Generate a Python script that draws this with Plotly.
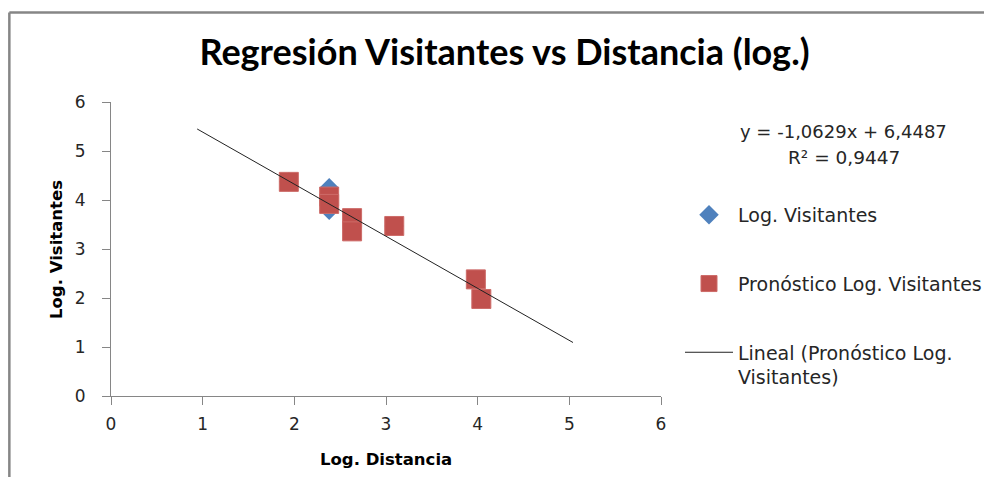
import plotly.graph_objects as go

# Data
log_distancia = [1.94, 2.38, 2.38, 2.63, 2.63, 3.09, 3.98, 4.04]
log_visitantes = [4.37, 4.25, 3.79, 3.55, 3.42, 3.47, 2.38, 1.98]
pron_x = [1.94, 2.38, 2.38, 2.63, 2.63, 3.09, 3.98, 4.04]
pron_visitantes = [4.37, 4.07, 3.92, 3.63, 3.36, 3.47, 2.38, 1.98]
slope = -1.0629
intercept = 6.4487
r2 = 0.9447
ticks = [0, 1, 2, 3, 4, 5, 6]

trend_x = [min(pron_x) - 1, max(pron_x) + 1]
trend_y = [slope * v + intercept for v in trend_x]

TFONT = "Lato"
FONT = "DejaVu Sans"
TXT = "#262626"
AX = "#868686"

W, H = 984, 477
# plot area in page pixels: x 110.7..661, y 101.7..396
L = 110.7
R = W - 661
T = 101.7
B = H - 396
pw = W - L - R
ph = H - T - B


def px_x(p):
    """page pixel x -> paper coordinate"""
    return (p - L) / pw


def px_y(p):
    """page pixel y -> paper coordinate"""
    return (H - B - p) / ph


fig = go.Figure()
fig.add_trace(go.Scatter(
    x=log_distancia, y=log_visitantes, mode="markers", name="Log. Visitantes",
    legendgroup="a",
    marker=dict(symbol="diamond", size=15, color="#4F81BD", line=dict(width=0)),
))
fig.add_trace(go.Scatter(
    x=pron_x, y=pron_visitantes, mode="markers", name="Pronóstico Log. Visitantes",
    legendgroup="b",
    marker=dict(symbol="square", size=19, color="#C0504D", line=dict(width=1, color="#CD6B68")),
))
fig.add_trace(go.Scatter(
    x=trend_x, y=trend_y, mode="lines", name="Lineal (Pronóstico Log.<br>Visitantes)",
    legendgroup="c",
    line=dict(color="#222222", width=1),
))

axis_common = dict(
    range=[0, 6], tickvals=ticks, ticks="outside", ticklen=8, tickcolor=AX,
    showline=True, linecolor=AX, linewidth=1, showgrid=False, zeroline=False,
    tickfont=dict(family=FONT, size=17, color=TXT),
)

fig.update_layout(
    width=W, height=H, autosize=False,
    margin=dict(l=L, r=R, t=T, b=B, pad=0),
    paper_bgcolor="white", plot_bgcolor="white",
    font=dict(family=FONT, size=19, color=TXT),
    title=dict(
        text="<b>Regresión Visitantes vs Distancia (log.)</b>",
        x=504.5 / W, xanchor="center", y=1 - 52 / H, yanchor="middle",
        font=dict(family=TFONT, size=36, color="#000000"),
    ),
    xaxis=dict(**axis_common, ticklabelstandoff=5),
    yaxis=dict(**axis_common, ticklabelstandoff=13),
    legend=dict(
        xref="container", yref="container",
        x=680 / W, y=1 - 196 / H, xanchor="left", yanchor="top",
        tracegroupgap=41, valign="top", bgcolor="rgba(0,0,0,0)",
        font=dict(family=FONT, size=19, color=TXT), itemwidth=48,
    ),
    showlegend=True,
)

fig.add_annotation(
    text="<b>Log. Distancia</b>", x=px_x(386), y=px_y(460), xref="paper", yref="paper",
    showarrow=False, xanchor="center", yanchor="middle",
    font=dict(family=FONT, size=16.5, color="#000000"),
)
fig.add_annotation(
    text="<b>Log. Visitantes</b>", x=px_x(55.5), y=px_y(249), xref="paper", yref="paper",
    showarrow=False, xanchor="center", yanchor="middle", textangle=-90,
    font=dict(family=FONT, size=16.5, color="#000000"),
)
fig.add_annotation(
    text=f"y = {slope:.4f}x + {intercept:.4f}".replace(".", ","),
    x=px_x(844), y=px_y(131), xref="paper", yref="paper",
    showarrow=False, xanchor="center", yanchor="middle",
    font=dict(family=FONT, size=18, color=TXT),
)
fig.add_annotation(
    text=f"R² = {r2:.4f}".replace(".", ","),
    x=px_x(844), y=px_y(157), xref="paper", yref="paper",
    showarrow=False, xanchor="center", yanchor="middle",
    font=dict(family=FONT, size=18.5, color=TXT),
)

# outer chart frame (top and left edges visible in the reference)
fig.add_shape(
    type="line", xref="paper", yref="paper",
    x0=px_x(9), x1=px_x(9), y0=px_y(500), y1=px_y(12),
    line=dict(color=AX, width=2.5),
)
fig.add_shape(
    type="line", xref="paper", yref="paper",
    x0=px_x(9), x1=px_x(1000), y0=px_y(12), y1=px_y(12),
    line=dict(color=AX, width=2.5),
)

fig.write_html(
    "out.html",
    config={"displayModeBar": False},
    post_script="document.body.style.margin='0';document.body.style.overflow='hidden';",
)
